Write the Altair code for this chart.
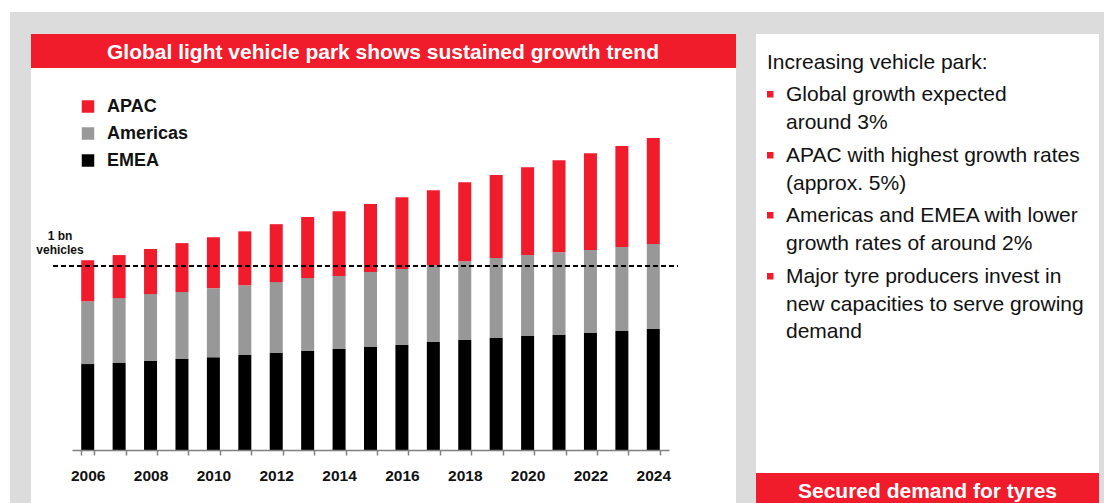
import altair as alt
import pandas as pd

# ---------------- data ----------------
years = list(range(2006, 2025))
emea = [467, 473, 484, 495, 505, 516, 527, 538, 549, 560, 571, 587, 598, 609, 620, 625, 636, 647, 658]
americas = [342, 353, 364, 364, 375, 380, 386, 397, 397, 408, 413, 418, 429, 435, 440, 451, 451, 457, 462]
apac = [223, 234, 245, 266, 277, 293, 315, 332, 353, 370, 391, 408, 429, 451, 478, 500, 527, 549, 576]
regions = ["APAC", "Americas", "EMEA"]
region_colors = ["#F01C2C", "#989898", "#000000"]
stack_rank = {"EMEA": 0, "Americas": 1, "APAC": 2}
reference_value = 1000
reference_label = ["1 bn", "vehicles"]

title_text = "Global light vehicle park shows sustained growth trend"
side_heading = "Increasing vehicle park:"
bullets = [
    ["Global growth expected", "around 3%"],
    ["APAC with highest growth rates", "(approx. 5%)"],
    ["Americas and EMEA with lower", "growth rates of around 2%"],
    ["Major tyre producers invest in", "new capacities to serve growing", "demand"],
]
footer_text = "Secured demand for tyres"

rows = []
for i, yr in enumerate(years):
    for name, vals in (("EMEA", emea), ("Americas", americas), ("APAC", apac)):
        rows.append({"year": str(yr), "region": name, "value": vals[i], "rank": stack_rank[name]})
df = pd.DataFrame(rows)

FONT = "Liberation Sans"
RED = "#F01C2C"
GREY_BG = "#DCDCDC"

base = alt.Chart(pd.DataFrame({"k": [0]}))


def rect(x1, x2, y1, y2, color):
    return base.mark_rect(color=color).encode(
        x=alt.value(x1), x2=alt.value(x2), y=alt.value(y1), y2=alt.value(y2)
    )


def text(t, x, y, size, weight="normal", color="#111111", align="left", line_height=None):
    kw = dict(text=t, font=FONT, fontSize=size, fontWeight=weight, color=color,
              align=align, baseline="alphabetic")
    if line_height is not None:
        kw["lineHeight"] = line_height
    return base.mark_text(**kw).encode(x=alt.value(x), y=alt.value(y))


layers = [
    rect(-62, 1032, -107, 400, GREY_BG),
    rect(-41, 664, -85, 400, "white"),
    rect(684, 1027, -85, 400, "white"),
    rect(-41, 664, -85, -51, RED),
    rect(684, 1027, 354, 400, RED),
    text(title_text, 311, -60, 21, "bold", "white", "center"),
    text(footer_text, 855.5, 379, 21, "bold", "white", "center"),
    text(side_heading, 695, -50, 21),
]

b_base = [-18, 43, 103, 164]
for lines, yb in zip(bullets, b_base):
    layers.append(rect(695, 701.5, yb - 10, yb - 3.5, RED))
    layers.append(text(lines, 714, yb, 21, line_height=27.5))

bars = alt.Chart(df).mark_bar().encode(
    x=alt.X(
        "year:O",
        title=None,
        scale=alt.Scale(paddingInner=0.586, paddingOuter=0.293),
        axis=alt.Axis(
            labelAngle=0,
            tickBand="extent",
            labelOverlap=False,
            zindex=1,
            labelExpr="toNumber(datum.value) % 2 == 0 ? datum.label : ''",
        ),
    ),
    y=alt.Y("value:Q", stack="zero", scale=alt.Scale(domain=[0, 1800], nice=False), axis=None),
    color=alt.Color(
        "region:N",
        scale=alt.Scale(domain=regions, range=region_colors),
        legend=alt.Legend(
            title=None, orient="none", legendX=7, legendY=-21.5,
            symbolType="square", symbolSize=156, symbolStrokeWidth=0,
            labelFont=FONT, labelFontSize=18, labelFontWeight="bold",
            labelColor="#111111", labelOffset=10, rowPadding=9, padding=0,
            zindex=1,
        ),
    ),
    order=alt.Order("rank:Q", sort="ascending"),
)

rule = base.mark_rule(color="black", strokeDash=[5, 3], strokeWidth=2).encode(
    y=alt.YDatum(reference_value, axis=None),
    x=alt.value(-19),
    x2=alt.value(606),
)
ref_text = text(reference_label, -12, 121, 12, "bold", "#111111", "center", line_height=14)

layers += [bars, rule, ref_text]

chart = alt.layer(*layers).properties(
    width=597,
    height=331,
    padding={"left": 64, "top": 111, "right": 435, "bottom": 53},
    autosize=alt.AutoSizeParams(type="none"),
    background="white",
).configure_view(strokeWidth=0).configure_axis(
    domainColor="#808080", domainWidth=1.5, tickColor="#808080", tickWidth=1.5,
    tickSize=5, labelFont=FONT, labelFontSize=15.5, labelFontWeight="bold",
    labelColor="#111111", labelPadding=13, grid=False,
)

chart.save("out.html", embed_options={"renderer": "svg", "actions": False})
